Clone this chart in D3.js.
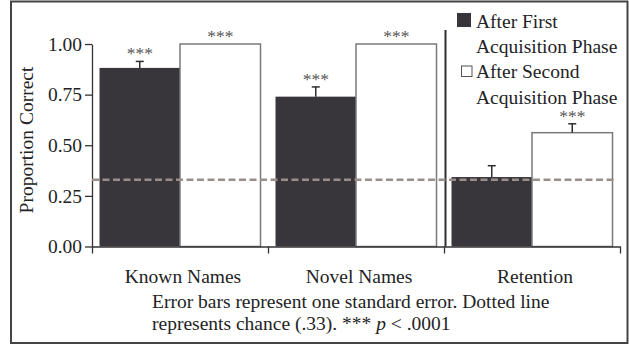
<!DOCTYPE html>
<html>
<head>
<meta charset="utf-8">
<script src="https://cdn.jsdelivr.net/npm/d3@7"></script>
<style>
  body { margin: 0; background: #fff; }
  svg text { font-family: "Liberation Serif", "Times New Roman", serif; fill: #232325; }
</style>
</head>
<body>
<div id="root"></div>
<script>
// data
var categories = ["Known Names", "Novel Names", "Retention"];
var series = ["After First Acquisition Phase", "After Second Acquisition Phase"];
var firstPhase = [0.882, 0.740, 0.343];
var secondPhase = [1.00, 1.00, 0.562];
var firstSE = [0.032, 0.048, 0.056];
var secondSE = [0, 0, 0.044];
var firstStars = ["***", "***", ""];
var secondStars = ["***", "***", "***"];
var yTicks = [0, 0.25, 0.5, 0.75, 1];
var chance = 0.33;

var w = 629, h = 345;
var margin = { left: 92, right: 9, top: 44, bottom: 98 };

var svg = d3.select("#root").append("svg").attr("width", w).attr("height", h);

// outer frame
svg.append("rect").attr("x", 11).attr("y", 1.5).attr("width", 616.5).attr("height", 341.5)
  .attr("fill", "white").attr("stroke", "#444").attr("stroke-width", 2);

var x0 = d3.scaleBand().domain(categories).range([margin.left, w - margin.right]).paddingInner(0).paddingOuter(0);
var x1 = d3.scaleBand().domain(series).range([7.5, x0.bandwidth() - 7.5]).padding(0);
var y = d3.scaleLinear().domain([0, 1]).range([h - margin.bottom - 0.5, margin.top]);

var rows = categories.map(function(c, i) {
  return [
    { cat: c, s: series[0], v: firstPhase[i], se: firstSE[i], star: firstStars[i] },
    { cat: c, s: series[1], v: secondPhase[i], se: secondSE[i], star: secondStars[i] }
  ];
});

var groups = svg.selectAll("g.grp").data(rows).enter().append("g").attr("class", "grp")
  .attr("transform", function(d) { return "translate(" + x0(d[0].cat) + ",0)"; });

groups.selectAll("rect").data(function(d) { return d; }).enter().append("rect")
  .attr("x", function(d) { return x1(d.s); })
  .attr("y", function(d) { return y(d.v); })
  .attr("width", x1.bandwidth())
  .attr("height", function(d) { return y(0) - y(d.v); })
  .attr("fill", function(d, i) { return i === 0 ? "#38363b" : "white"; })
  .attr("stroke", function(d, i) { return i === 0 ? "none" : "#7a7a7a"; })
  .attr("stroke-width", 1.5);

// error bars (upper half only)
groups.selectAll("g.err").data(function(d) { return d.filter(function(e) { return e.se > 0; }); })
  .enter().append("g").attr("class", "err").each(function(d) {
    var g = d3.select(this);
    var cx = x1(d.s) + x1.bandwidth() / 2;
    g.append("line").attr("x1", cx).attr("x2", cx).attr("y1", y(d.v)).attr("y2", y(d.v + d.se))
      .attr("stroke", "#2e2e30").attr("stroke-width", 1.5);
    g.append("line").attr("x1", cx - 4).attr("x2", cx + 4).attr("y1", y(d.v + d.se)).attr("y2", y(d.v + d.se))
      .attr("stroke", "#2e2e30").attr("stroke-width", 1.5);
  });

// significance stars
groups.selectAll("text.star").data(function(d) { return d; }).enter().append("text").attr("class", "star")
  .attr("x", function(d) { return x1(d.s) + x1.bandwidth() / 2; })
  .attr("y", function(d) { return y(d.v + d.se) - 2; })
  .attr("text-anchor", "middle").style("font-size", "17.5px").style("fill", "#555")
  .text(function(d) { return d.star; });

// y axis
var yAxis = d3.axisLeft(y).tickValues(yTicks).tickFormat(d3.format(".2f")).tickSize(7).tickSizeOuter(0).tickPadding(3);
var gy = svg.append("g").attr("transform", "translate(" + margin.left + ",0)").call(yAxis);
gy.selectAll("path, line").attr("stroke", "#333").attr("stroke-width", 1.3);
gy.selectAll("text").style("font-size", "19.5px");

// x axis: ticks at group boundaries
var xb = d3.scaleLinear().domain([0, categories.length]).range(x0.range());
var xAxis = d3.axisBottom(xb).tickValues(d3.range(categories.length + 1)).tickFormat("").tickSize(7).tickSizeOuter(0);
var gx = svg.append("g").attr("transform", "translate(0," + y(0) + ")").call(xAxis);
gx.selectAll("path, line").attr("stroke", "#333").attr("stroke-width", 1.3);

svg.selectAll("text.cat").data(categories).enter().append("text").attr("class", "cat")
  .attr("x", function(d) { return x0(d) + x0.bandwidth() / 2 + 3; })
  .attr("y", 283).attr("text-anchor", "middle").style("font-size", "19.5px")
  .text(function(d) { return d; });

// separator before Retention
var sepX = x0("Retention") + 1.5;
svg.append("line").attr("x1", sepX).attr("x2", sepX).attr("y1", 30).attr("y2", y(0))
  .attr("stroke", "#2e2e30").attr("stroke-width", 2);

// chance line
svg.append("line").attr("x1", margin.left).attr("x2", 617).attr("y1", y(chance)).attr("y2", y(chance))
  .attr("stroke", "#9a8e8a").attr("stroke-width", 2.5).attr("stroke-dasharray", "7,3.5");

// y label
svg.append("text").attr("transform", "translate(33," + 140 + ") rotate(-90)")
  .attr("text-anchor", "middle").style("font-size", "19.5px").text("Proportion Correct");

// legend
var leg = [
  { fill: "#38363b", stroke: "none", sx: 457, sy: 13, size: 14, lines: ["After First", "Acquisition Phase"], ty: 27.5 },
  { fill: "white", stroke: "#555", sx: 461.5, sy: 66, size: 10.5, lines: ["After Second", "Acquisition Phase"], ty: 78 }
];
leg.forEach(function(l) {
  svg.append("rect").attr("x", l.sx).attr("y", l.sy).attr("width", l.size).attr("height", l.size)
    .attr("fill", l.fill).attr("stroke", l.stroke).attr("stroke-width", 1);
  svg.append("text").attr("x", 476).attr("y", l.ty).style("font-size", "19.5px").text(l.lines[0]);
  svg.append("text").attr("x", 476).attr("y", l.ty + 25.5).style("font-size", "19.5px").text(l.lines[1]);
});

// caption
var cap = svg.append("g").style("font-size", "19.5px");
cap.append("text").attr("x", 152).attr("y", 308).text("Error bars represent one standard error. Dotted line");
var t2 = cap.append("text").attr("x", 152).attr("y", 330);
t2.append("tspan").text("represents chance (.33). *** ");
t2.append("tspan").style("font-style", "italic").text("p");
t2.append("tspan").text(" < .0001");
</script>
</body>
</html>
